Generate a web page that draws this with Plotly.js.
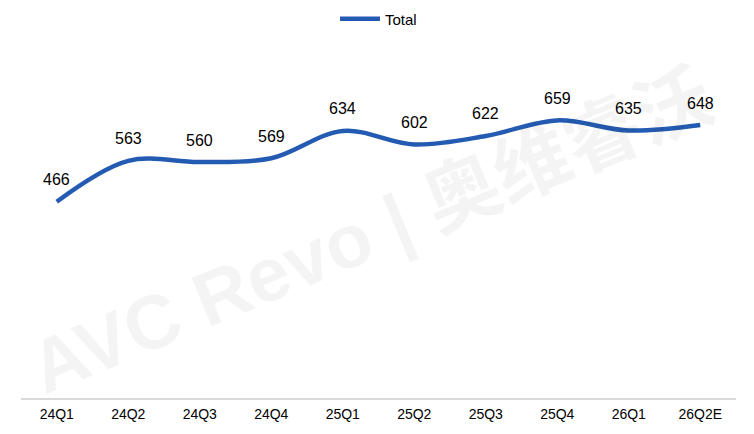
<!DOCTYPE html>
<html><head><meta charset="utf-8">
<script src="https://cdn.plot.ly/plotly-3.0.1.min.js"></script>
<style>html,body{margin:0;padding:0;background:#fff}#chart{width:754px;height:434px}</style>
</head><body><div id="chart"></div>
<script>
const categories = ["24Q1","24Q2","24Q3","24Q4","25Q1","25Q2","25Q3","25Q4","26Q1","26Q2E"];
const totalValues = [466,563,560,569,634,602,622,659,635,648];
const seriesName = "Total";

const annotations = categories.map((c,i)=>({
  x:c, y:totalValues[i], text:String(totalValues[i]), showarrow:false,
  yshift:22, font:{family:"Liberation Sans, Arial, sans-serif", size:16, color:"#000"}
}));
annotations.push({
  xref:"paper", yref:"paper", x:0.49, y:0.49, text:"<b>AVC Revo | 奥维睿沃</b>",
  showarrow:false, textangle:-22.5, font:{family:"Liberation Sans, Noto Sans CJK SC, sans-serif", size:76, color:"rgba(0,0,0,0.045)"}
});

Plotly.newPlot("chart", [{
  x:categories, y:totalValues, name:seriesName, type:"scatter", mode:"lines",
  line:{color:"#245BB2", width:4.5, shape:"spline", smoothing:1},
  showlegend:true
}], {
  width:754, height:434,
  margin:{l:21, r:18, t:61, b:36},
  paper_bgcolor:"#fff", plot_bgcolor:"#fff",
  font:{family:"Liberation Sans, Arial, sans-serif", color:"#000"},
  showlegend:true,
  legend:{orientation:"h", x:0.5, xanchor:"center", y:1-19/434, yref:"container", yanchor:"middle",
    font:{size:15}, itemwidth:40},
  xaxis:{type:"category", range:[-0.5,9.5], showgrid:false, zeroline:false, showline:true, linecolor:"#d9d9d9", linewidth:1.5,
    ticks:"", tickfont:{size:14}, ticklabelstandoff:2},
  yaxis:{range:[0,800], visible:false, showgrid:false, zeroline:false},
  annotations:annotations
}, {displayModeBar:false});
</script></body></html>
